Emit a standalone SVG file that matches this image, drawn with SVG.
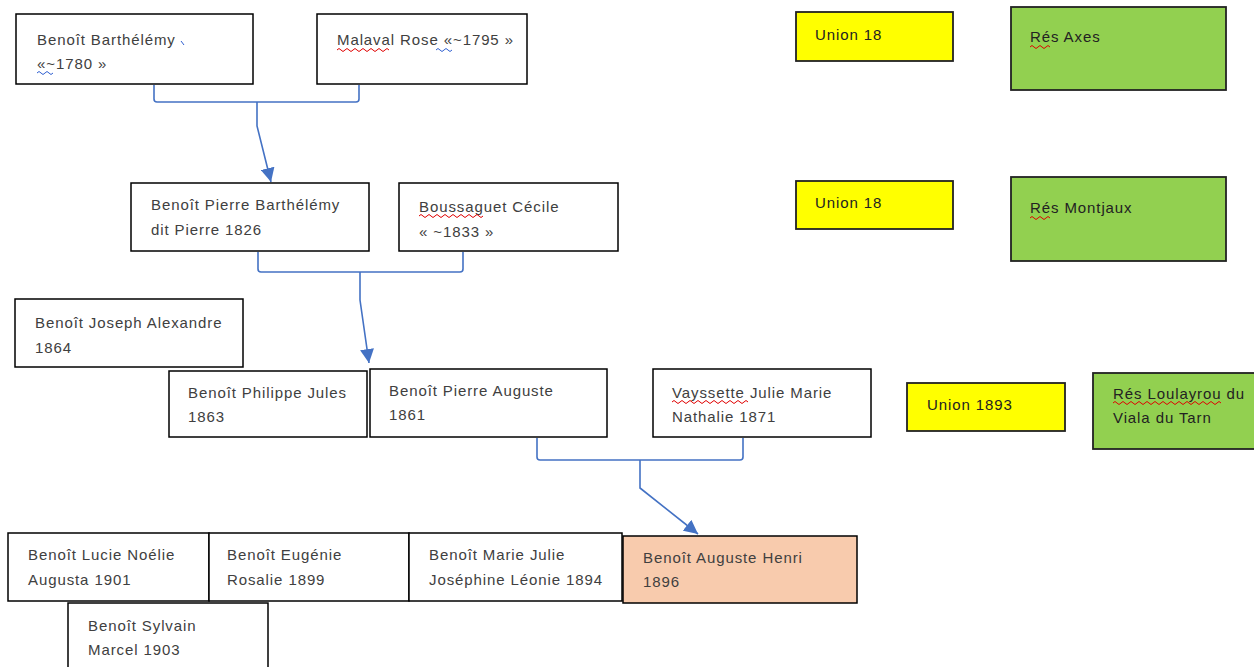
<svg xmlns="http://www.w3.org/2000/svg" width="1254" height="667" viewBox="0 0 1254 667">
<defs>
<marker id="arr" markerUnits="userSpaceOnUse" markerWidth="15" markerHeight="14" refX="14" refY="7" orient="auto">
<path d="M0,0 L14,7 L0,14 z" fill="#4472C4"/>
</marker>
</defs>
<style>
.box{fill:#fff;stroke:#000;stroke-width:1.5}
.peach{fill:#F8CBAD;stroke:#000;stroke-width:1.5}
.yel{fill:#FFFF00;stroke:#222;stroke-width:1.8}
.grn{fill:#92D050;stroke:#222;stroke-width:1.8}
text{font-family:"Liberation Sans",Arial,sans-serif;font-size:15px;letter-spacing:0.9px;fill:#404040}
.dk{fill:#222}
.con{fill:none;stroke:#4472C4;stroke-width:1.6}
.sqr{fill:none;stroke:#e00000;stroke-width:1}
.sqb{fill:none;stroke:#2f5fd0;stroke-width:1}
</style>
<rect width="1254" height="667" fill="#fff"/>
<g id="connectors">
<path class="con" d="M154,85 V99 Q154,102 157,102 H356 Q359,102 359,99 V85"/>
<path class="con" d="M257,102 V126 L271,182" marker-end="url(#arr)"/>
<path class="con" d="M258,252 V269 Q258,272 261,272 H460 Q463,272 463,269 V252"/>
<path class="con" d="M360,272 V300 L369,363" marker-end="url(#arr)"/>
<path class="con" d="M537,438 V457 Q537,460 540,460 H740 Q743,460 743,457 V438"/>
<path class="con" d="M640,460 V488 L698,534" marker-end="url(#arr)"/>
</g>
<g id="n-barthelemy">
<rect class="box" x="16" y="14" width="237" height="70"/>
<text x="37" y="45">Benoît Barthélémy</text>
<text x="37" y="69">«~1780 »</text>
<path class="sqb" d="M181,41 l3,4"/>
<path class="sqb" d="M37,73 q2,-3 4,0 t4,0 t4,0 t4,0"/>
</g>
<g id="n-malaval">
<rect class="box" x="317" y="14" width="210" height="70"/>
<text x="337" y="45">Malaval Rose «~1795 »</text>
<path class="sqr" d="M337,50 q2,-3 4,0 t4,0 t4,0 t4,0 t4,0 t4,0 t4,0 t4,0 t4,0 t4,0 t4,0 t4,0 t4,0"/>
<path class="sqb" d="M436,50 q2,-3 4,0 t4,0 t4,0 t4,0"/>
</g>
<g id="n-pierre1826">
<rect class="box" x="131" y="183" width="238" height="68"/>
<text x="151" y="210">Benoît Pierre Barthélémy</text>
<text x="151" y="235">dit Pierre 1826</text>
</g>
<g id="n-boussaguet">
<rect class="box" x="399" y="183" width="219" height="68"/>
<text x="419" y="212">Boussaguet Cécile</text>
<text x="419" y="237">« ~1833 »</text>
<path class="sqr" d="M419,216 q2,-3 4,0 t4,0 t4,0 t4,0 t4,0 t4,0 t4,0 t4,0 t4,0 t4,0 t4,0 t4,0 t4,0 t4,0 t4,0 t4,0"/>
</g>
<g id="n-joseph">
<rect class="box" x="15" y="299" width="228" height="68"/>
<text x="35" y="328">Benoît Joseph Alexandre</text>
<text x="35" y="353">1864</text>
</g>
<g id="n-philippe">
<rect class="box" x="169" y="371" width="198" height="66"/>
<text x="188" y="398">Benoît Philippe Jules</text>
<text x="188" y="422">1863</text>
</g>
<g id="n-auguste1861">
<rect class="box" x="370" y="369" width="237" height="68"/>
<text x="389" y="396">Benoît Pierre Auguste</text>
<text x="389" y="420">1861</text>
</g>
<g id="n-vayssette">
<rect class="box" x="653" y="369" width="218" height="68"/>
<text x="672" y="398">Vayssette Julie Marie</text>
<text x="672" y="422">Nathalie 1871</text>
<path class="sqr" d="M672,402 q2,-3 4,0 t4,0 t4,0 t4,0 t4,0 t4,0 t4,0 t4,0 t4,0 t4,0 t4,0 t4,0 t4,0 t4,0 t4,0 t4,0 t4,0 t4,0 t4,0"/>
</g>
<g id="n-lucie">
<rect class="box" x="8" y="533" width="201" height="68"/>
<text x="28" y="560">Benoît Lucie Noélie</text>
<text x="28" y="585">Augusta 1901</text>
</g>
<g id="n-eugenie">
<rect class="box" x="209" y="533" width="200" height="68"/>
<text x="227" y="560">Benoît Eugénie</text>
<text x="227" y="585">Rosalie 1899</text>
</g>
<g id="n-mariejulie">
<rect class="box" x="409" y="533" width="213" height="68"/>
<text x="429" y="560">Benoît Marie Julie</text>
<text x="429" y="585">Joséphine Léonie 1894</text>
</g>
<g id="n-henri">
<rect class="peach" x="623" y="536" width="234" height="67"/>
<text x="643" y="563">Benoît Auguste Henri</text>
<text x="643" y="587">1896</text>
</g>
<g id="n-sylvain">
<rect class="box" x="68" y="603" width="200" height="70"/>
<text x="88" y="631">Benoît Sylvain</text>
<text x="88" y="655">Marcel 1903</text>
</g>
<g id="n-union18a">
<rect class="yel" x="796" y="12" width="157" height="49"/>
<text class="dk" x="815" y="40">Union 18</text>
</g>
<g id="n-resaxes">
<rect class="grn" x="1011" y="7" width="215" height="83"/>
<text class="dk" x="1030" y="42">Rés Axes</text>
<path class="sqr" d="M1030,47 q2,-3 4,0 t4,0 t4,0 t4,0 t4,0"/>
</g>
<g id="n-union18b">
<rect class="yel" x="796" y="181" width="157" height="48"/>
<text class="dk" x="815" y="208">Union 18</text>
</g>
<g id="n-resmontjaux">
<rect class="grn" x="1011" y="177" width="215" height="84"/>
<text class="dk" x="1030" y="213">Rés Montjaux</text>
<path class="sqr" d="M1030,218 q2,-3 4,0 t4,0 t4,0 t4,0 t4,0"/>
</g>
<g id="n-union1893">
<rect class="yel" x="907" y="383" width="158" height="48"/>
<text class="dk" x="927" y="410">Union 1893</text>
</g>
<g id="n-resloulayrou">
<rect class="grn" x="1093" y="373" width="165" height="76"/>
<text class="dk" x="1113" y="399">Rés Loulayrou du</text>
<text class="dk" x="1113" y="423">Viala du Tarn</text>
<path class="sqr" d="M1113,403 q2,-3 4,0 t4,0 t4,0 t4,0 t4,0 t4,0 t4,0 t4,0 t4,0 t4,0 t4,0 t4,0 t4,0 t4,0 t4,0 t4,0 t4,0 t4,0 t4,0 t4,0 t4,0 t4,0 t4,0 t4,0 t4,0 t4,0 t4,0"/>
</g>
</svg>
